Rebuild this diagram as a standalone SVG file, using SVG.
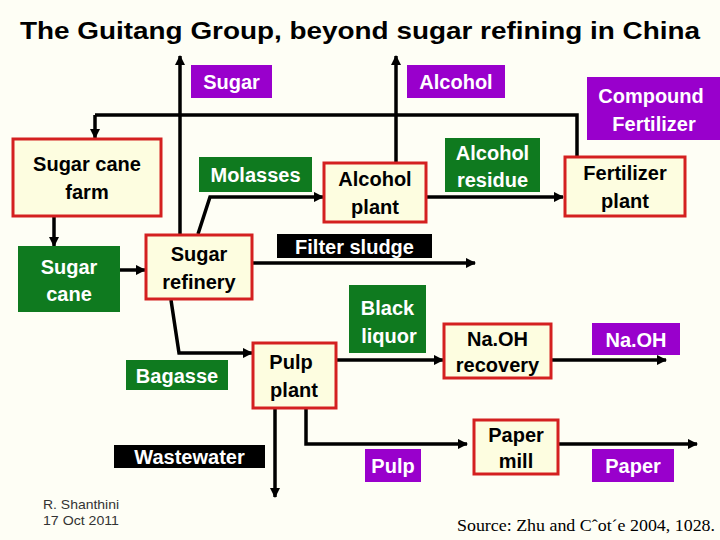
<svg xmlns="http://www.w3.org/2000/svg" width="720" height="540" viewBox="0 0 720 540">
<defs>
<marker id="ah" viewBox="0 0 10 10" refX="9" refY="5" markerWidth="3" markerHeight="3" orient="auto"><path d="M0,0L10,5L0,10z" fill="#000"/></marker>
<style>
text{font-family:"Liberation Sans",Arial,sans-serif;text-anchor:middle;font-weight:bold}
.pr{fill:#fdfde0;stroke:#d42020;stroke-width:3}
.g{fill:#0f7a1f}.p{fill:#9900cc}.b{fill:#000}
.wt{fill:#fff;font-size:20px}
.bt{fill:#000;font-size:20px}
.c{fill:none;stroke:#000;stroke-width:3.5;marker-end:url(#ah)}
.n{fill:none;stroke:#000;stroke-width:3.5}
</style>
</defs>
<rect width="720" height="540" fill="#fefef5"/>
<text x="360" y="39" style="font-size:24px" textLength="680" lengthAdjust="spacingAndGlyphs">The Guitang Group, beyond sugar refining in China</text>
<g id="connectors">
<path class="c" d="M180,234V56"/>
<path class="c" d="M396,162V56"/>
<path class="n" d="M95,115H577V157"/>
<path class="c" d="M95,115V138"/>
<path class="c" d="M54,217V246"/>
<path class="c" d="M120,270H145"/>
<path class="c" d="M198,234L210,197H323"/>
<path class="c" d="M427,197H563"/>
<path class="c" d="M253,263H475"/>
<path class="c" d="M171,300L179,353H252"/>
<path class="c" d="M337,360H443"/>
<path class="c" d="M552,360H666"/>
<path class="c" d="M275,409V497"/>
<path class="c" d="M306,409V444H467"/>
<path class="c" d="M559,444H697"/>
</g>
<g id="sugar"><rect class="p" x="191" y="65" width="81" height="33"/><text class="wt" x="231.5" y="89">Sugar</text></g>
<g id="alcohol"><rect class="p" x="407" y="65" width="98" height="33"/><text class="wt" x="456" y="89">Alcohol</text></g>
<g id="compound"><rect class="p" x="587" y="77" width="133" height="63"/><text class="wt" x="651" y="103">Compound</text><text class="wt" x="654" y="131">Fertilizer</text></g>
<g id="farm"><rect class="pr" x="13" y="139" width="148" height="77"/><text class="bt" x="87" y="171">Sugar cane</text><text class="bt" x="87" y="199">farm</text></g>
<g id="molasses"><rect class="g" x="199" y="157" width="113" height="35"/><text class="wt" x="255.5" y="182">Molasses</text></g>
<g id="alcoholplant"><rect class="pr" x="324" y="163" width="102" height="59"/><text class="bt" x="375" y="186">Alcohol</text><text class="bt" x="375" y="214">plant</text></g>
<g id="residue"><rect class="g" x="445" y="138" width="95" height="54"/><text class="wt" x="492.5" y="160">Alcohol</text><text class="wt" x="492.5" y="187">residue</text></g>
<g id="fertplant"><rect class="pr" x="565" y="157" width="120" height="59"/><text class="bt" x="625" y="180">Fertilizer</text><text class="bt" x="625" y="208">plant</text></g>
<g id="sugarcane"><rect class="g" x="18" y="246" width="102" height="66"/><text class="wt" x="69" y="274">Sugar</text><text class="wt" x="69" y="301">cane</text></g>
<g id="refinery"><rect class="pr" x="146" y="235" width="106" height="64"/><text class="bt" x="199" y="261">Sugar</text><text class="bt" x="199" y="289">refinery</text></g>
<g id="filter"><rect class="b" x="277" y="234" width="155" height="24"/><text class="wt" x="354.5" y="254">Filter sludge</text></g>
<g id="blackliquor"><rect class="g" x="349" y="285" width="77" height="68"/><text class="wt" x="387.5" y="315">Black</text><text class="wt" x="389" y="343">liquor</text></g>
<g id="naohrec"><rect class="pr" x="444" y="324" width="107" height="54"/><text class="bt" x="497.5" y="346">Na.OH</text><text class="bt" x="497.5" y="372">recovery</text></g>
<g id="naoh"><rect class="p" x="592" y="323" width="88" height="32"/><text class="wt" x="636" y="347">Na.OH</text></g>
<g id="bagasse"><rect class="g" x="126" y="360" width="102" height="30"/><text class="wt" x="177" y="383">Bagasse</text></g>
<g id="pulpplant"><rect class="pr" x="253" y="343" width="83" height="65"/><text class="bt" x="291" y="369">Pulp</text><text class="bt" x="294" y="397">plant</text></g>
<g id="wastewater"><rect class="b" x="114" y="445" width="151" height="23"/><text class="wt" x="189.5" y="464">Wastewater</text></g>
<g id="papermill"><rect class="pr" x="474" y="420" width="84" height="54"/><text class="bt" x="516" y="442">Paper</text><text class="bt" x="516" y="468">mill</text></g>
<g id="pulp"><rect class="p" x="365" y="449" width="56" height="33"/><text class="wt" x="393" y="473">Pulp</text></g>
<g id="paper"><rect class="p" x="592" y="449" width="82" height="33"/><text class="wt" x="633" y="473">Paper</text></g>
<text x="81" y="509" style="font-size:13px;fill:#333;font-weight:normal" textLength="76" lengthAdjust="spacingAndGlyphs">R. Shanthini</text>
<text x="81" y="525" style="font-size:13px;fill:#333;font-weight:normal" textLength="76" lengthAdjust="spacingAndGlyphs">17 Oct 2011</text>
<text x="586" y="531" style="font-family:'Liberation Serif',serif;font-size:16px;font-weight:normal" textLength="258" lengthAdjust="spacingAndGlyphs">Source: Zhu and Cˆot´e 2004, 1028.</text>
</svg>
